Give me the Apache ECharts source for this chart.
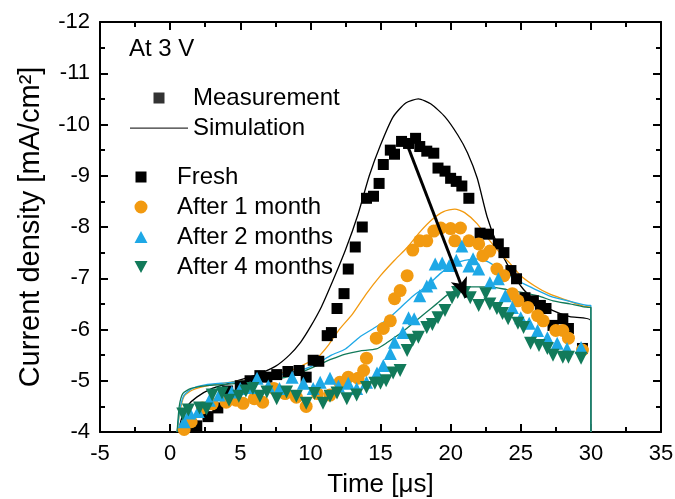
<!DOCTYPE html>
<html>
<head>
<meta charset="utf-8">
<script src="https://cdn.jsdelivr.net/npm/echarts@6/dist/echarts.min.js"></script>
<style>
  html, body { margin: 0; padding: 0; background: #fff; }
  #chart { width: 675px; height: 499px; }
</style>
</head>
<body>
<div id="chart"></div>
<script>
// measured points [time us, current density mA/cm2]
const fresh = [[1.2,-4.1],[1.9,-4.12],[2.7,-4.3],[3.4,-4.47],[4.1,-4.8],[5.0,-4.9],[5.7,-5.0],[6.4,-5.1],[6.9,-5.07],[7.6,-5.12],[8.4,-5.18],[9.2,-5.2],[9.7,-5.07],[10.2,-5.4],[10.6,-5.38],[11.2,-5.88],[11.5,-5.94],[11.9,-6.41],[12.4,-6.7],[12.7,-7.18],[13.2,-7.61],[13.7,-8.0],[14.0,-8.56],[14.5,-8.6],[14.9,-8.85],[15.2,-9.22],[15.7,-9.5],[16.0,-9.42],[16.5,-9.67],[17.0,-9.63],[17.5,-9.73],[17.8,-9.57],[18.3,-9.48],[18.8,-9.44],[19.1,-9.15],[19.6,-9.09],[20.0,-8.95],[20.4,-8.89],[20.8,-8.8],[21.3,-8.56],[22.1,-7.88],[22.7,-7.86],[23.4,-7.67],[23.8,-7.5],[24.3,-7.15],[24.7,-6.99],[25.3,-6.62],[25.9,-6.56],[26.4,-6.47],[26.8,-6.41],[27.3,-6.08],[28.0,-6.21],[28.4,-6.02],[29.4,-5.63]];
const month1 = [[1.0,-4.05],[1.5,-4.2],[2.3,-4.47],[3.0,-4.55],[4.0,-4.58],[4.7,-4.62],[5.2,-4.56],[6.0,-4.65],[6.6,-4.58],[7.4,-4.85],[8.2,-4.75],[9.0,-4.68],[9.7,-4.5],[10.5,-4.75],[11.4,-4.72],[12.1,-4.97],[12.7,-5.07],[13.4,-5.05],[13.8,-5.2],[14.0,-5.44],[14.7,-5.83],[15.2,-6.02],[15.7,-6.17],[16.0,-6.6],[16.4,-6.76],[16.9,-7.05],[17.3,-7.55],[17.8,-7.73],[18.3,-7.73],[18.8,-7.92],[19.3,-7.98],[20.0,-7.97],[20.3,-7.73],[20.7,-7.98],[21.3,-7.73],[22.0,-7.67],[22.3,-7.44],[22.8,-7.53],[23.3,-7.18],[23.8,-7.05],[24.4,-6.7],[24.8,-6.56],[25.5,-6.43],[26.2,-6.27],[26.6,-6.17],[27.5,-5.98],[28.0,-5.98],[28.4,-5.83],[29.4,-5.6]];
const month2 = [[1.0,-4.2],[1.4,-4.37],[2.0,-4.4],[2.8,-4.62],[3.5,-4.72],[4.4,-4.78],[5.0,-4.85],[5.7,-4.87],[6.2,-5.05],[7.0,-4.9],[7.8,-4.85],[8.7,-5.07],[9.5,-4.95],[10.2,-4.85],[10.7,-4.97],[11.4,-5.05],[12.0,-4.9],[12.7,-4.95],[13.3,-4.85],[14.0,-4.97],[14.75,-5.15],[15.2,-5.3],[15.7,-5.53],[16.0,-5.75],[16.6,-5.94],[17.0,-6.23],[17.4,-6.21],[17.8,-6.66],[18.3,-6.85],[18.6,-6.91],[18.9,-7.28],[19.4,-7.3],[19.9,-7.25],[20.4,-7.35],[20.8,-7.63],[21.3,-7.24],[21.6,-7.38],[22.0,-7.18],[22.8,-6.91],[23.4,-6.99],[23.9,-6.66],[24.4,-6.43],[25.0,-6.23],[25.6,-6.12],[26.2,-5.98],[26.9,-5.84],[27.6,-5.73],[28.3,-5.63],[29.3,-5.65]];
const month4 = [[0.9,-4.35],[1.3,-4.43],[2.1,-4.47],[2.6,-4.45],[3.0,-4.72],[3.7,-4.76],[4.2,-4.62],[4.9,-4.7],[5.4,-4.8],[5.9,-4.85],[6.4,-4.7],[6.9,-4.78],[7.6,-4.65],[8.3,-4.78],[9.0,-4.7],[9.7,-4.56],[10.3,-4.75],[10.9,-4.56],[11.4,-4.7],[11.9,-4.76],[12.6,-4.65],[13.3,-4.72],[14.0,-4.87],[14.6,-4.95],[15.0,-4.95],[15.4,-5.0],[15.9,-5.15],[16.4,-5.2],[16.9,-5.59],[17.3,-5.79],[17.7,-5.85],[18.3,-6.04],[18.7,-6.1],[19.1,-6.23],[19.6,-6.37],[20.1,-6.62],[20.5,-6.72],[21.0,-6.72],[21.4,-6.62],[22.0,-6.47],[22.5,-6.7],[22.8,-6.5],[23.3,-6.41],[23.7,-6.31],[24.1,-6.21],[24.8,-6.12],[25.2,-6.04],[25.7,-5.73],[26.3,-5.69],[26.9,-5.63],[27.3,-5.5],[28.0,-5.46],[28.4,-5.46],[29.3,-5.44]];

// simulated curves
const simFresh = [[0.6,-4.0],[0.8,-4.25],[1.2,-4.5],[1.9,-4.68],[3.0,-4.85],[4.5,-4.98],[6.0,-5.1],[7.5,-5.28],[8.5,-5.5],[9.3,-5.75],[10.0,-6.05],[10.8,-6.45],[11.6,-6.95],[12.5,-7.55],[13.4,-8.25],[14.2,-9.0],[15.0,-9.6],[15.9,-10.15],[16.8,-10.42],[17.7,-10.5],[18.6,-10.4],[19.6,-10.15],[20.5,-9.8],[21.2,-9.45],[21.9,-8.95],[22.6,-8.2],[23.3,-7.68],[24.3,-7.15],[25.2,-6.78],[26.2,-6.52],[27.3,-6.37],[28.5,-6.25],[30,-6.17],[30,-4.0]];
const simMonth1 = [[0.5,-4.0],[0.7,-4.4],[1.0,-4.7],[1.6,-4.82],[2.6,-4.9],[4.0,-4.96],[5.7,-5.02],[7.5,-5.12],[8.8,-5.22],[9.8,-5.35],[10.5,-5.45],[11.3,-5.7],[12.0,-5.98],[13.0,-6.3],[14.0,-6.7],[15.0,-7.05],[16.0,-7.35],[16.9,-7.6],[17.8,-7.9],[18.7,-8.15],[19.5,-8.3],[20.3,-8.35],[21.0,-8.28],[21.9,-8.06],[22.8,-7.73],[23.5,-7.5],[24.2,-7.3],[25.0,-7.05],[26.0,-6.85],[27.0,-6.7],[28.2,-6.58],[29.5,-6.45],[30,-6.43],[30,-4.0]];
const simMonth2 = [[0.5,-4.0],[0.7,-4.45],[1.0,-4.72],[1.6,-4.85],[2.5,-4.92],[4.0,-4.96],[5.5,-5.0],[7.0,-5.07],[8.3,-5.15],[9.5,-5.22],[10.5,-5.34],[11.5,-5.5],[12.5,-5.62],[13.5,-5.85],[14.5,-6.02],[15.5,-6.2],[16.4,-6.42],[17.3,-6.65],[18.3,-6.85],[19.3,-7.1],[20.2,-7.28],[21.0,-7.35],[21.8,-7.38],[22.6,-7.33],[23.4,-7.2],[24.3,-7.03],[25.3,-6.88],[26.3,-6.75],[27.3,-6.63],[28.5,-6.55],[29.8,-6.47],[30,-6.47],[30,-4.0]];
const simMonth4 = [[0.5,-4.0],[0.65,-4.5],[0.9,-4.75],[1.5,-4.85],[2.5,-4.9],[4.0,-4.93],[5.5,-4.97],[7.0,-5.02],[8.3,-5.07],[9.5,-5.18],[10.5,-5.3],[11.5,-5.42],[12.5,-5.52],[13.5,-5.58],[14.7,-5.62],[15.5,-5.75],[16.4,-5.92],[17.3,-6.12],[18.2,-6.32],[19.0,-6.5],[19.8,-6.68],[20.7,-6.8],[21.5,-6.83],[22.8,-6.83],[24.0,-6.78],[25.2,-6.72],[26.3,-6.65],[27.3,-6.56],[28.5,-6.5],[29.8,-6.43],[30,-6.43],[30,-4.0]];

// arrow from fresh peak down to the 4 month peak
const arrowFrom = [16.7, -9.75];
const arrowTo = [21.1, -6.62];

const FONT = '"Liberation Sans", Arial, sans-serif';
const BLACK = '#000000';
const ORANGE = '#f29a10';
const BLUE = '#1ea8e6';
const GREEN = '#127a5a';

// legend icons: zero-area corner points pin the icon box so shapes keep their size
const BOX1 = 'M0,0L0.01,0M0,12L0.01,12M58,0L57.99,0M58,12L57.99,12';
const BOX2 = 'M0,0L0.01,0M0,13L0.01,13M62,0L61.99,0M62,13L61.99,13';
const ICON_MEAS = 'path://' + BOX1 + 'M23.5,0.5L34.5,0.5L34.5,11.5L23.5,11.5Z';
const ICON_SIM = 'path://' + BOX1 + 'M0,5.4L58,5.4L58,6.7L0,6.7Z';
const ICON_SQUARE = 'path://' + BOX2 + 'M25.5,1L36.5,1L36.5,12L25.5,12Z';
const ICON_CIRCLE = 'path://' + BOX2 + 'M24.5,6.5A6.5,6.5 0 1 0 37.5,6.5A6.5,6.5 0 1 0 24.5,6.5Z';
const ICON_UP = 'path://' + BOX2 + 'M24.5,12.5L37.5,12.5L31,0.5Z';
const ICON_DOWN = 'path://' + BOX2 + 'M24.5,0.5L37.5,0.5L31,12.5Z';

const chart = echarts.init(document.getElementById('chart'));

const frameAxis = {
  axisLine: { show: true, onZero: false, lineStyle: { color: '#000', width: 2 } },
  axisTick: { show: true, inside: true, length: 8, lineStyle: { color: '#000', width: 2 } },
  minorTick: { show: true, splitNumber: 2, length: 5, lineStyle: { color: '#000', width: 2 } },
  splitLine: { show: false }
};

function simLine(name, data, color) {
  return {
    name: name,
    type: 'line',
    data: data,
    showSymbol: false,
    symbol: 'none',
    smooth: 0.2,
    z: 2,
    lineStyle: { color: color, width: 1.3 },
    itemStyle: { color: color }
  };
}

function measured(name, data, color, symbol, size, rotate) {
  return {
    name: name,
    type: 'scatter',
    data: data,
    symbol: symbol,
    symbolSize: size,
    symbolRotate: rotate || 0,
    z: 3,
    itemStyle: { color: color, opacity: 1 }
  };
}

const legendText = { fontFamily: FONT, fontSize: 24, color: '#000', lineHeight: 24 };

const option = {
  backgroundColor: '#fff',
  animation: false,
  grid: { left: 100, right: 14, top: 22, bottom: 67, outerBoundsMode: 'none' },
  graphic: [{
    type: 'text',
    left: 129,
    top: 37,
    style: { text: 'At 3 V', font: '24px ' + FONT, fill: '#000' }
  }],
  legend: [{
    data: [
      { name: 'Measurement', icon: ICON_MEAS },
      { name: 'Simulation', icon: ICON_SIM }
    ],
    orient: 'vertical',
    left: 130,
    top: 86,
    padding: 0,
    itemWidth: 58,
    itemHeight: 12,
    itemGap: 6,
    itemStyle: { borderWidth: 0 },
    textStyle: legendText
  }, {
    data: [
      { name: 'Fresh', icon: ICON_SQUARE },
      { name: 'After 1 month', icon: ICON_CIRCLE },
      { name: 'After 2 months', icon: ICON_UP },
      { name: 'After 4 months', icon: ICON_DOWN }
    ],
    orient: 'vertical',
    left: 110,
    top: 165,
    padding: 0,
    itemWidth: 62,
    itemHeight: 13,
    itemGap: 6,
    itemStyle: { borderWidth: 0 },
    textStyle: legendText
  }],
  xAxis: [
    Object.assign({}, frameAxis, {
      type: 'value', position: 'bottom', min: -5, max: 35, interval: 5,
      name: 'Time [\u03bcs]', nameLocation: 'middle', nameGap: 40,
      nameTextStyle: { fontFamily: FONT, fontSize: 26, color: '#000' },
      axisLabel: { fontFamily: FONT, fontSize: 22, color: '#000', margin: 11 }
    }),
    Object.assign({}, frameAxis, {
      type: 'value', position: 'top', min: -5, max: 35, interval: 5,
      axisLabel: { show: false }
    })
  ],
  yAxis: [
    Object.assign({}, frameAxis, {
      type: 'value', position: 'left', min: -12, max: -4, interval: 1, inverse: true,
      name: 'Current density [mA/cm\u00b2]', nameLocation: 'middle', nameGap: 55,
      nameTextStyle: { fontFamily: FONT, fontSize: 29, color: '#000' },
      axisLabel: { fontFamily: FONT, fontSize: 22, color: '#000', margin: 10 }
    }),
    Object.assign({}, frameAxis, {
      type: 'value', position: 'right', min: -12, max: -4, interval: 1, inverse: true,
      axisLabel: { show: false }
    })
  ],
  series: [
    // legend-only entries
    { name: 'Measurement', type: 'scatter', data: [], itemStyle: { color: BLACK } },
    { name: 'Simulation', type: 'scatter', data: [], itemStyle: { color: BLACK } },

    simLine('Fresh sim', simFresh, BLACK),
    simLine('1 month sim', simMonth1, ORANGE),
    simLine('2 months sim', simMonth2, BLUE),
    simLine('4 months sim', simMonth4, GREEN),

    measured('Fresh', fresh, BLACK, 'rect', 11),
    measured('After 1 month', month1, ORANGE, 'circle', 13),
    measured('After 2 months', month2, BLUE, 'triangle', 13),
    measured('After 4 months', month4, GREEN, 'triangle', 13, 180),

    {
      name: 'arrow',
      type: 'line',
      data: [],
      z: 5,
      markLine: {
        silent: true,
        symbol: ['none', 'arrow'],
        symbolSize: [13, 20],
        label: { show: false },
        lineStyle: { color: '#000', width: 3, type: 'solid' },
        data: [[{ coord: arrowFrom }, { coord: arrowTo }]]
      }
    }
  ]
};

chart.setOption(option);
</script>
</body>
</html>
